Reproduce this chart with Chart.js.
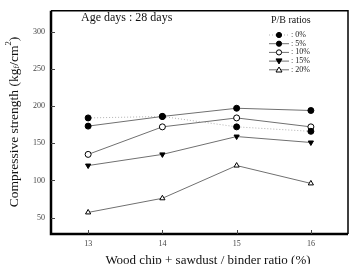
<!DOCTYPE html>
<html>
<head>
<meta charset="utf-8">
<script src="https://cdn.jsdelivr.net/npm/chart.js@4.4.1/dist/chart.umd.min.js"></script>
<style>
  html, body { margin: 0; padding: 0; background: #fff; }
  #wrap { width: 353px; height: 264px; }
</style>
</head>
<body>
<div id="wrap"><canvas id="myChart" width="353" height="264"></canvas></div>
<script>
const ratios = [13, 14, 15, 16];
const yTicks = [50, 100, 150, 200, 250, 300];
const seriesNames = [": 0%", ": 5%", ": 10%", ": 15%", ": 20%"];
const pb0 = [184, 186, 172, 166];
const pb5 = [173, 186, 197, 194];
const pb10 = [135, 172, 184, 172];
const pb15 = [120, 135, 159, 151];
const pb20 = [57, 76, 120, 96];

const serif = "'Liberation Serif', 'DejaVu Serif', serif";

function pts(values) {
    return ratios.map((r, i) => ({ x: r, y: values[i] }));
}

// styles des séries
const styles = [
    { bg: "#000", line: "#b0b0b0", dash: [1, 2], shape: "circle", rot: 0 },
    { bg: "#000", line: "#707070", dash: [], shape: "circle", rot: 0 },
    { bg: "#fff", line: "#707070", dash: [], shape: "circle", rot: 0 },
    { bg: "#000", line: "#707070", dash: [], shape: "triangle", rot: 180 },
    { bg: "#fff", line: "#707070", dash: [], shape: "triangle", rot: 0 },
];
const allValues = [pb0, pb5, pb10, pb15, pb20];

const datasets = allValues.map((vals, i) => ({
    label: seriesNames[i],
    data: pts(vals),
    borderColor: styles[i].line,
    borderWidth: 1,
    borderDash: styles[i].dash,
    pointStyle: styles[i].shape,
    rotation: styles[i].rot,
    pointRadius: 3,
    pointBackgroundColor: styles[i].bg,
    pointBorderColor: "#000",
    pointBorderWidth: 1,
    tension: 0,
}));

// cadre, graduations internes, titres et légende
const decor = {
    id: "decor",
    afterDatasetsDraw(chart) {
        const { ctx, chartArea: a, scales } = chart;
        ctx.save();
        ctx.strokeStyle = "#000";
        ctx.lineWidth = 1.5;
        ctx.beginPath();
        ctx.moveTo(a.left, a.top);
        ctx.lineTo(a.right, a.top);
        ctx.lineTo(a.right, a.bottom);
        ctx.stroke();
        ctx.lineWidth = 2.5;
        ctx.beginPath();
        ctx.moveTo(a.left, a.top);
        ctx.lineTo(a.left, a.bottom);
        ctx.lineTo(a.right, a.bottom);
        ctx.stroke();

        ctx.lineWidth = 1;
        ctx.strokeStyle = "#444";
        ctx.beginPath();
        ratios.forEach((r) => {
            const x = Math.round(scales.x.getPixelForValue(r)) + 0.5;
            ctx.moveTo(x, a.bottom);
            ctx.lineTo(x, a.bottom - 4);
        });
        yTicks.forEach((v) => {
            const y = Math.round(scales.y.getPixelForValue(v)) + 0.5;
            ctx.moveTo(a.left, y);
            ctx.lineTo(a.left + 4, y);
        });
        ctx.stroke();

        ctx.fillStyle = "#111";
        ctx.textBaseline = "middle";
        ctx.textAlign = "left";
        ctx.font = "12px " + serif;
        ctx.fillText("Age days : 28 days", 81, 18);

        ctx.font = "10px " + serif;
        ctx.fillText("P/B ratios", 271, 20);

        ctx.font = "8px " + serif;
        seriesNames.forEach((name, i) => {
            const y = 35 + i * 8.7;
            const st = styles[i];
            ctx.save();
            ctx.strokeStyle = st.line;
            ctx.setLineDash(st.dash);
            ctx.beginPath();
            ctx.moveTo(269, y);
            ctx.lineTo(289, y);
            ctx.stroke();
            ctx.restore();
            ctx.save();
            ctx.fillStyle = st.bg;
            ctx.strokeStyle = "#000";
            ctx.beginPath();
            if (st.shape === "circle") {
                ctx.arc(279, y, 2.6, 0, Math.PI * 2);
            } else if (st.rot === 180) {
                ctx.moveTo(276, y - 2.2);
                ctx.lineTo(282, y - 2.2);
                ctx.lineTo(279, y + 2.8);
                ctx.closePath();
            } else {
                ctx.moveTo(276, y + 2.2);
                ctx.lineTo(282, y + 2.2);
                ctx.lineTo(279, y - 2.8);
                ctx.closePath();
            }
            ctx.fill();
            ctx.stroke();
            ctx.restore();
            ctx.fillStyle = "#222";
            ctx.fillText(name, 291, y);
        });

        // titre axe x
        ctx.font = "13px " + serif;
        ctx.textAlign = "center";
        ctx.fillStyle = "#111";
        ctx.fillText("Wood chip + sawdust / binder ratio (%)", 208, 261);

        // titre axe y avec indice et exposant
        ctx.save();
        ctx.translate(14, 122);
        ctx.rotate(-Math.PI / 2);
        const big = "13.5px " + serif;
        const small = "8.5px " + serif;
        const parts = [
            ["Compressive strength (kg", big, 0],
            ["f", small, 3],
            ["/cm", big, 0],
            ["2", small, -5],
            [")", big, 0],
        ];
        let w = 0;
        parts.forEach((p) => { ctx.font = p[1]; w += ctx.measureText(p[0]).width; });
        let x = -w / 2;
        ctx.textAlign = "left";
        parts.forEach((p) => {
            ctx.font = p[1];
            ctx.fillText(p[0], x, p[2]);
            x += ctx.measureText(p[0]).width;
        });
        ctx.restore();
        ctx.restore();
    },
};

new Chart(document.getElementById("myChart"), {
    type: "line",
    data: { datasets },
    options: {
        responsive: false,
        animation: false,
        layout: { padding: { top: 3, right: 3, left: 0, bottom: 0 } },
        plugins: { legend: { display: false }, tooltip: { enabled: false } },
        scales: {
            x: {
                type: "linear",
                min: 12.5,
                max: 16.5,
                afterBuildTicks: (s) => { s.ticks = ratios.map((v) => ({ value: v })); },
                afterFit: (s) => { s.height = 30; },
                grid: { display: false, drawTicks: false },
                border: { display: false },
                ticks: { color: "#444", font: { family: serif, size: 8 }, padding: 5, maxRotation: 0 },
            },
            y: {
                min: 28,
                max: 328,
                afterBuildTicks: (s) => { s.ticks = yTicks.map((v) => ({ value: v })); },
                afterFit: (s) => { s.width = 51; },
                grid: { display: false, drawTicks: false },
                border: { display: false },
                ticks: { color: "#444", font: { family: serif, size: 8 }, padding: 6 },
            },
        },
    },
    plugins: [decor],
});
</script>
</body>
</html>
